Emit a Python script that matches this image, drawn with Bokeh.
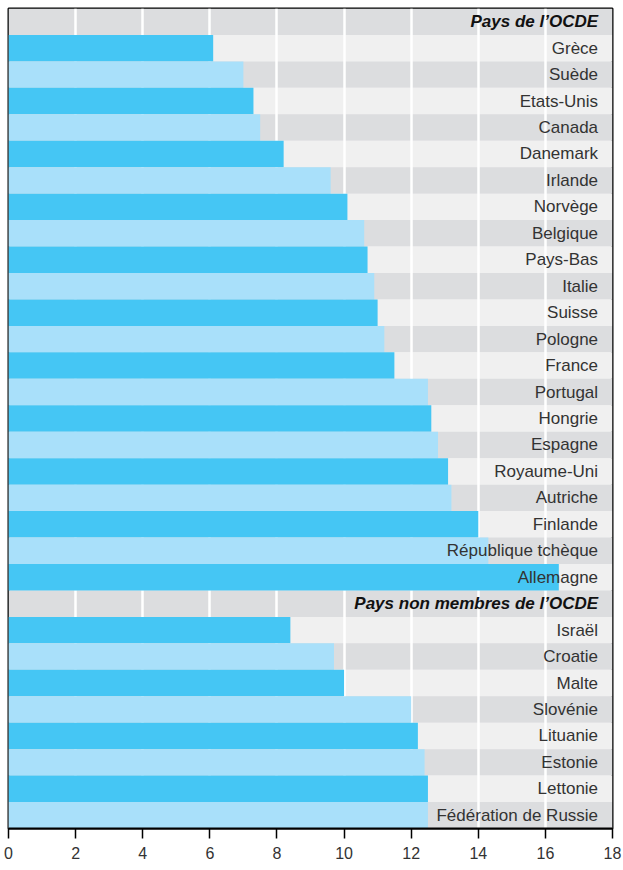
from bokeh.plotting import figure
from bokeh.models import Range1d, FactorRange, FixedTicker
from bokeh.core.properties import value
from bokeh.embed import file_html
from bokeh.resources import INLINE

# ---- data ----
header_oecd = "Pays de l\u2019OCDE"
oecd_countries = ["Grèce", "Suède", "Etats-Unis", "Canada", "Danemark", "Irlande",
                  "Norvège", "Belgique", "Pays-Bas", "Italie", "Suisse", "Pologne",
                  "France", "Portugal", "Hongrie", "Espagne", "Royaume-Uni",
                  "Autriche", "Finlande", "République tchèque", "Allemagne"]
oecd_values = [6.1, 7.0, 7.3, 7.5, 8.2, 9.6, 10.1, 10.6, 10.7, 10.9, 11.0, 11.2,
               11.5, 12.5, 12.6, 12.8, 13.1, 13.2, 14.0, 14.3, 16.4]

header_non = "Pays non membres de l\u2019OCDE"
non_countries = ["Israël", "Croatie", "Malte", "Slovénie", "Lituanie", "Estonie",
                 "Lettonie", "Fédération de Russie"]
non_values = [8.4, 9.7, 10.0, 12.0, 12.2, 12.4, 12.5, 12.5]

x_ticks = [0, 2, 4, 6, 8, 10, 12, 14, 16, 18]

# ---- styling ----
DARK_BAR = "#45C6F4"
LIGHT_BAR = "#A9E0FA"
BG_LIGHT = "#F0F0F0"
BG_DARK = "#DCDDDF"
FONT = "Liberation Sans"

rows = [header_oecd] + oecd_countries + [header_non] + non_countries

bar_y, bar_v, bar_c = [], [], []
bg_y, bg_c = [], []
for group_header, names, vals in [(header_oecd, oecd_countries, oecd_values),
                                  (header_non, non_countries, non_values)]:
    bg_y.append(group_header)
    bg_c.append(BG_DARK)
    for i, (n, v) in enumerate(zip(names, vals)):
        bar_y.append(n)
        bar_v.append(v)
        bar_c.append(DARK_BAR if i % 2 == 0 else LIGHT_BAR)
        bg_y.append(n)
        bg_c.append(BG_LIGHT if i % 2 == 0 else BG_DARK)

p = figure(
    x_range=Range1d(0, 18),
    y_range=FactorRange(factors=list(reversed(rows)), range_padding=0),
    frame_width=604, frame_height=820,
    min_border_left=8, min_border_right=10, min_border_top=8, min_border_bottom=0,
    output_backend="svg", toolbar_location=None, y_axis_location=None,
)
p.background_fill_color = BG_LIGHT
p.border_fill_color = "white"

# background stripes
p.hbar(y=bg_y, left=0, right=18, height=1, color=bg_c, line_color=None, level="image")

# grid
p.xgrid.ticker = FixedTicker(ticks=x_ticks)
p.xgrid.grid_line_color = "white"
p.xgrid.grid_line_width = 2.5
p.ygrid.visible = False

# bars
p.hbar(y=bar_y, left=0, right=bar_v, height=1, color=bar_c, line_color=None)

# labels
label_x = 17.57
p.text(x=[label_x] * len(bar_y), y=bar_y, text=bar_y,
       text_align="right", text_baseline="middle",
       text_font=value(FONT), text_font_size="17px", text_color="#333333")
p.text(x=[label_x, label_x], y=[header_oecd, header_non], text=[header_oecd, header_non],
       text_align="right", text_baseline="middle",
       text_font=value(FONT), text_font_size="17px", text_font_style="bold italic",
       text_color="#111111")

# axis
ax = p.xaxis[0]
ax.ticker = FixedTicker(ticks=x_ticks)
ax.axis_line_color = "black"
ax.axis_line_width = 2
ax.major_tick_line_color = "black"
ax.major_tick_line_width = 1.5
ax.major_tick_out = 10
ax.major_tick_in = 0
ax.minor_tick_line_color = None
ax.major_label_text_font = FONT
ax.major_label_text_font_size = "16px"
ax.major_label_text_color = "#333333"
ax.major_label_standoff = 8

p.outline_line_color = "black"
p.outline_line_width = 2

open("out.html", "w").write(file_html(p, INLINE))
